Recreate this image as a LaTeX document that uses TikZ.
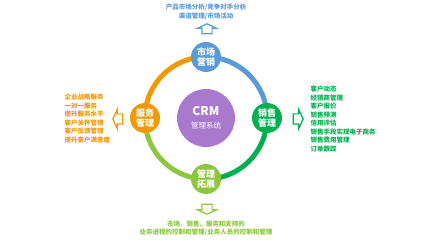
\documentclass[tikz,border=0pt]{standalone}
\usepackage{fontspec}
\usepackage{tikz}
\usetikzlibrary{backgrounds}
\usetikzlibrary{shapes.arrows}
\setmainfont{Noto Sans CJK SC}
\definecolor{mblue}{HTML}{5B9BD5}
\definecolor{sgreen}{HTML}{00B050}
\definecolor{lgreen}{HTML}{8DC63F}
\definecolor{sorange}{HTML}{F39800}
\definecolor{cpurple}{HTML}{A979CE}
\tikzstyle{stage} = [circle, minimum size=30pt, inner sep=0pt, text=white, font=\fontsize{9}{10.5}\selectfont\bfseries, align=center]
\tikzstyle{mktstage} = [stage, fill=mblue]
\tikzstyle{salestage} = [stage, fill=sgreen]
\tikzstyle{extstage} = [stage, fill=lgreen]
\tikzstyle{servstage} = [stage, fill=sorange]
\tikzstyle{corenode} = [circle, minimum size=58pt, inner sep=0pt, fill=cpurple, text=white, align=center]
\tikzstyle{outarrow} = [single arrow, draw, fill=white, line width=1.2pt, minimum height=10pt, inner xsep=0pt, inner ysep=4.5pt, single arrow head extend=4.5pt, single arrow tip angle=130]
\tikzstyle{ringarc} = [line width=5pt]
\tikzstyle{infotext} = [font=\fontsize{6.5}{8.5}\selectfont\bfseries]

\begin{document}
\begin{tikzpicture}[x=1pt, y=1pt]
\useasboundingbox (0, 0) rectangle (426, -240);

% Centre of the cycle
\node[corenode] (crm) at (206, -118) {{\fontsize{12}{13}\selectfont\bfseries CRM}\\[1pt]{\fontsize{7.5}{9}\selectfont 管理系统}};
% Four stages round the ring
\node[mktstage] (mkt) at (206, -57) {市场\\营销};
\node[salestage] (sale) at (267, -118) {销售\\管理};
\node[extstage] (ext) at (206, -179) {管理\\拓展};
\node[servstage] (serv) at (145, -118) {服务\\管理};
% Ring arcs between the stages
\begin{scope}[on background layer]
\draw[ringarc, mblue] (mkt.center) arc[start angle=90, end angle=0, radius=61];
\draw[ringarc, sgreen] (sale.center) arc[start angle=0, end angle=-90, radius=61];
\draw[ringarc, lgreen] (ext.center) arc[start angle=-90, end angle=-180, radius=61];
\draw[ringarc, sorange] (serv.center) arc[start angle=180, end angle=90, radius=61];
\end{scope}
% Hollow arrows pointing outwards
\node[outarrow, draw=mblue, rotate=90] (mktarr) at (207, -30) {};
\node[outarrow, draw=sgreen] (salearr) at (297, -119) {};
\node[outarrow, draw=lgreen, rotate=-90] (extarr) at (207, -208) {};
\node[outarrow, draw=sorange, rotate=180] (servarr) at (119, -119) {};
% Descriptions
\node[infotext, text=mblue, align=center] (mkttxt) at (206, -12) {产品市场分析/竞争对手分析\\渠道管理/市场活动};
\node[infotext, text=sgreen, align=left, anchor=west] (saletxt) at (307, -119) {客户动态\\经销商管理\\客户报价\\销售预测\\信用评估\\销售手段实现电子商务\\销售费用管理\\订单跟踪};
\node[infotext, text=lgreen, align=center] (exttxt) at (206, -228.5) {市场、销售、服务和支持的\\业务进程的控制和管理/业务人员的控制和管理};
\node[infotext, text=sorange, align=left, anchor=west] (servtxt) at (61, -118.5) {企业战略服务\\一对一服务\\提升服务水平\\客户关怀管理\\客户反馈管理\\提升客户满意度};
\end{tikzpicture}
\end{document}
